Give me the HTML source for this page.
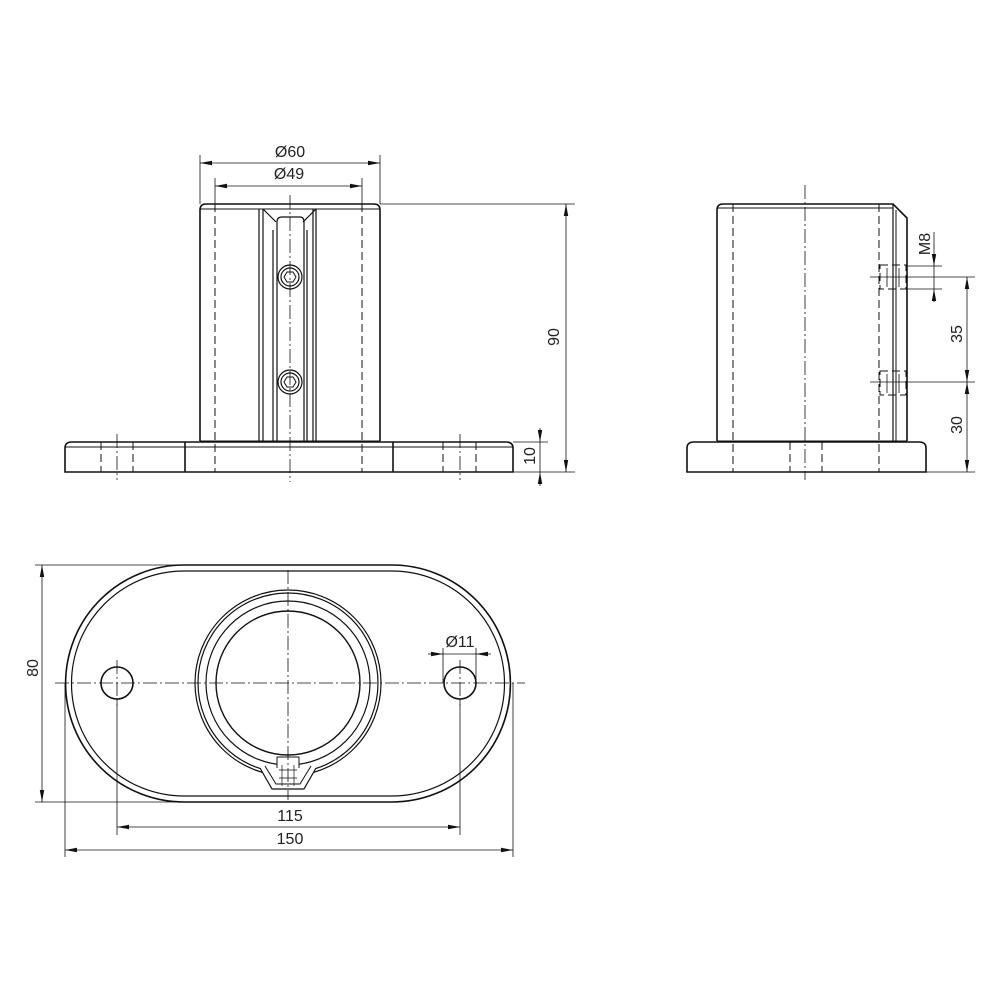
<!DOCTYPE html>
<html><head><meta charset="utf-8"><style>html,body{margin:0;padding:0;background:#fff}svg{display:block}</style></head>
<body>
<svg width="1000" height="1000" viewBox="0 0 1000 1000" xmlns="http://www.w3.org/2000/svg" font-family="Liberation Sans, sans-serif" font-size="16" fill="none" stroke="#111">
<defs>
<marker id="a" markerWidth="12" markerHeight="6" refX="12" refY="3" orient="auto-start-reverse" markerUnits="userSpaceOnUse"><path d="M0,0.8 L12,3 L0,5.2z" fill="#111" stroke="none"/></marker>
</defs>
<g stroke-width="1.6">
<path d="M200,441 V210 Q200,204 206,204 H374 Q380,204 380,210 V441"/>
<line x1="200" y1="209" x2="380" y2="209" stroke-width="1"/>
<path d="M65,472 V448 Q65,442 72,442 H506 Q513,442 513,448 V472 Z"/>
<line x1="65" y1="447" x2="513" y2="447" stroke-width="1"/>
<line x1="185" y1="442" x2="185" y2="472"/>
<line x1="393" y1="442" x2="393" y2="472"/>
<line x1="200" y1="441" x2="380" y2="441" stroke-width="1"/>
<g stroke-width="1.2">
<line x1="259" y1="209" x2="259" y2="441"/><line x1="263" y1="209" x2="263" y2="441"/>
<line x1="316" y1="209" x2="316" y2="441"/><line x1="313" y1="209" x2="313" y2="441"/>
<path d="M273,441 V230 M263,209 L276,222"/>
<path d="M316,209 L303,222"/>
<path d="M277,441 V222 Q277,217 282,217 H300 Q304,217 304,222 V441"/>
<path d="M307,441 V230"/>
<circle cx="290" cy="277" r="12"/><circle cx="290" cy="277" r="9"/>
<path d="M284,277 L287,272 H293 L296,277 L293,282 H287Z" stroke-width="1"/>
<circle cx="290" cy="382" r="12"/><circle cx="290" cy="382" r="9"/>
<path d="M284,382 L287,377 H293 L296,382 L293,387 H287Z" stroke-width="1"/>
</g>
<g stroke-width="1" stroke-dasharray="8,4">
<line x1="215" y1="204" x2="215" y2="472"/><line x1="362" y1="204" x2="362" y2="472"/>
<line x1="101" y1="442" x2="101" y2="472"/><line x1="133" y1="442" x2="133" y2="472"/>
<line x1="443" y1="442" x2="443" y2="472"/><line x1="476" y1="442" x2="476" y2="472"/>
</g>
<g stroke-width="0.8" stroke-dasharray="14,3,2,3">
<line x1="290" y1="195" x2="290" y2="482"/>
<line x1="117" y1="434" x2="117" y2="480"/><line x1="460" y1="434" x2="460" y2="480"/>
</g>
<g stroke-width="0.8">
<line x1="200" y1="155" x2="200" y2="204"/><line x1="380" y1="155" x2="380" y2="204"/>
<line x1="200" y1="163" x2="380" y2="163" marker-start="url(#a)" marker-end="url(#a)"/>
<line x1="215" y1="178" x2="215" y2="204"/><line x1="362" y1="178" x2="362" y2="204"/>
<line x1="215" y1="186" x2="362" y2="186" marker-start="url(#a)" marker-end="url(#a)"/>
<line x1="380" y1="204" x2="575" y2="204"/><line x1="513" y1="472" x2="575" y2="472"/>
<line x1="566" y1="204" x2="566" y2="472" marker-start="url(#a)" marker-end="url(#a)"/>
<line x1="513" y1="442" x2="548" y2="442"/>
<line x1="540" y1="428" x2="540" y2="442" marker-end="url(#a)"/>
<line x1="540" y1="486" x2="540" y2="472" marker-end="url(#a)"/>
<line x1="540" y1="442" x2="540" y2="472"/>
</g>
<path d="M717,441 V210 Q717,204 723,204 H893 L907,218 V441"/>
<line x1="717" y1="208" x2="893" y2="208" stroke-width="1"/>
<line x1="893" y1="204" x2="893" y2="441" stroke-width="1.2"/>
<line x1="896" y1="210" x2="896" y2="441" stroke-width="1"/>
<path d="M687,472 V448 Q687,442 694,442 H919 Q926,442 926,448 V472 Z"/>
<line x1="717" y1="441" x2="907" y2="441" stroke-width="1"/>
<g stroke-width="1" stroke-dasharray="8,4">
<line x1="733" y1="204" x2="733" y2="472"/><line x1="879" y1="204" x2="879" y2="472"/>
<line x1="790" y1="442" x2="790" y2="472"/><line x1="822" y1="442" x2="822" y2="472"/>
<rect x="880" y="265" width="26" height="24"/><rect x="880" y="371" width="26" height="24"/>
</g>
<g stroke-width="0.8">
<line x1="887" y1="268" x2="887" y2="287"/><line x1="899" y1="268" x2="899" y2="287"/>
<line x1="887" y1="374" x2="887" y2="393"/><line x1="899" y1="374" x2="899" y2="393"/>
</g>
<g stroke-width="0.8" stroke-dasharray="14,3,2,3">
<line x1="805" y1="185" x2="805" y2="480"/>
</g>
<g stroke-width="0.8">
<line x1="870" y1="277" x2="975" y2="277"/><line x1="870" y1="382" x2="975" y2="382"/>
<line x1="926" y1="472" x2="975" y2="472"/>
<line x1="907" y1="266" x2="942" y2="266"/><line x1="907" y1="289" x2="942" y2="289"/>
<line x1="934" y1="232" x2="934" y2="266" marker-end="url(#a)"/>
<line x1="934" y1="302" x2="934" y2="289" marker-end="url(#a)"/>
<line x1="934" y1="266" x2="934" y2="289"/>
<line x1="967" y1="277" x2="967" y2="382" marker-start="url(#a)" marker-end="url(#a)"/>
<line x1="967" y1="382" x2="967" y2="472" marker-start="url(#a)" marker-end="url(#a)"/>
</g>
<path d="M184,565 H392 A118.5,118.5 0 0 1 392,802 H184 A118.5,118.5 0 0 1 184,565 Z"/>
<path d="M184,571 H392 A112.5,112.5 0 0 1 392,796 H184 A112.5,112.5 0 0 1 184,571" stroke-width="1.2"/>
<circle cx="117" cy="683" r="16"/><circle cx="460" cy="683" r="16"/>
<circle cx="288" cy="683" r="93" stroke-width="1.2"/>
<circle cx="288" cy="683" r="90" stroke-width="1.2"/>
<circle cx="288" cy="683" r="82" stroke-width="1.2"/>
<circle cx="288" cy="683" r="72" stroke-width="1.4"/>
<rect x="277" y="757" width="22" height="30" fill="#fff" stroke-width="1"/>
<path d="M260,768 L272,789 H304 L316,768" stroke-width="1.2" fill="#fff"/>
<path d="M265,766 L276,784 H300 L311,766" stroke-width="1"/>
<g stroke-width="0.7"><line x1="279" y1="770" x2="297" y2="770"/><line x1="279" y1="778" x2="297" y2="778"/><line x1="282" y1="765" x2="282" y2="786"/><line x1="294" y1="765" x2="294" y2="786"/></g>
<g stroke-width="0.8" stroke-dasharray="14,3,2,3">
<line x1="55" y1="683" x2="525" y2="683"/>
<line x1="288" y1="570" x2="288" y2="800"/>
<line x1="117" y1="660" x2="117" y2="706"/><line x1="460" y1="660" x2="460" y2="706"/>
</g>
<g stroke-width="0.8">
<line x1="35" y1="565" x2="184" y2="565"/><line x1="35" y1="802" x2="184" y2="802"/>
<line x1="42" y1="565" x2="42" y2="802" marker-start="url(#a)" marker-end="url(#a)"/>
<line x1="117" y1="700" x2="117" y2="835"/><line x1="460" y1="700" x2="460" y2="835"/>
<line x1="117" y1="827" x2="460" y2="827" marker-start="url(#a)" marker-end="url(#a)"/>
<line x1="65" y1="683" x2="65" y2="857"/><line x1="513" y1="683" x2="513" y2="857"/>
<line x1="65" y1="850" x2="513" y2="850" marker-start="url(#a)" marker-end="url(#a)"/>
<line x1="443" y1="648" x2="443" y2="683"/><line x1="476" y1="648" x2="476" y2="683"/>
<line x1="428" y1="654" x2="443" y2="654" marker-end="url(#a)"/>
<line x1="491" y1="654" x2="476" y2="654" marker-end="url(#a)"/>
<line x1="443" y1="654" x2="476" y2="654"/>
</g>
</g>
<g fill="#222" stroke="none" text-anchor="middle">
<text x="290" y="157">Ø60</text>
<text x="289" y="179">Ø49</text>
<text x="460" y="647">Ø11</text>
<text x="290" y="821">115</text>
<text x="290" y="844">150</text>
<text transform="translate(559,337) rotate(-90)">90</text>
<text transform="translate(535,456) rotate(-90)">10</text>
<text transform="translate(930,244) rotate(-90)">M8</text>
<text transform="translate(962,334) rotate(-90)">35</text>
<text transform="translate(962,425) rotate(-90)">30</text>
<text transform="translate(38,668) rotate(-90)">80</text>
</g>
</svg>
</body></html>
